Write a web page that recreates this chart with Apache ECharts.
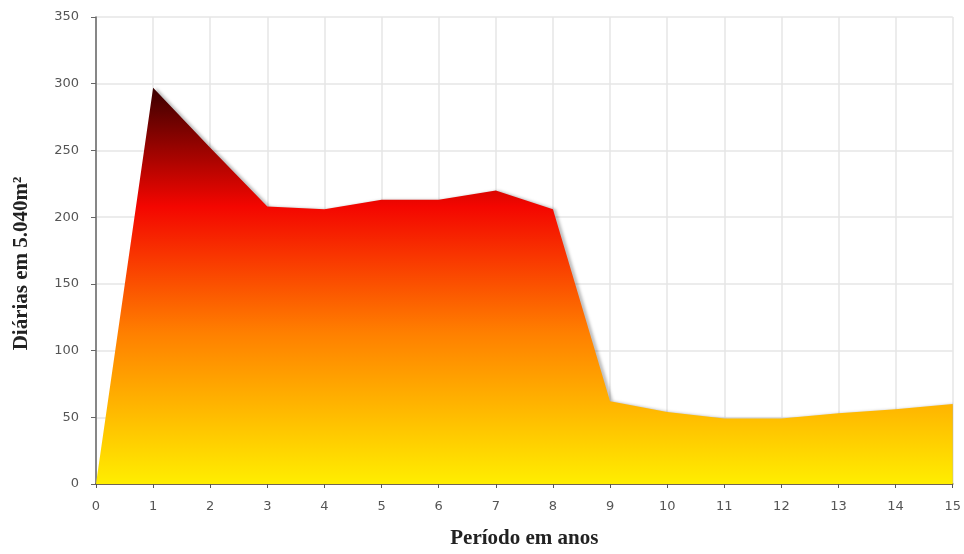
<!DOCTYPE html>
<html>
<head>
<meta charset="utf-8">
<script src="https://cdn.jsdelivr.net/npm/echarts@6/dist/echarts.min.js"></script>
<style>
  html, body { margin: 0; padding: 0; background: #fff; }
  #chart { width: 964px; height: 554px; }
</style>
</head>
<body>
<div id="chart"></div>
<script>
// Período (anos) e diárias correspondentes
const anos = [0, 1, 2, 3, 4, 5, 6, 7, 8, 9, 10, 11, 12, 13, 14, 15];
const diarias = [0, 297, 252, 208, 206, 213, 213, 220, 206, 62, 54, 49, 49, 53, 56, 60];
const yTicks = { min: 0, max: 350, interval: 50 };

const chart = echarts.init(document.getElementById('chart'));
chart.setOption({
  animation: false,
  grid: { left: 96, right: 7, top: 17, bottom: 64 },
  xAxis: {
    type: 'value',
    min: 0, max: 15, interval: 1,
    name: 'Período em anos',
    nameLocation: 'middle',
    nameGap: 44,
    nameTextStyle: { fontFamily: 'Liberation Serif', fontWeight: 'bold', fontSize: 21, color: '#222' },
    axisLine: { lineStyle: { color: '#4a3a20', width: 1.5 } },
    axisTick: { length: 4, lineStyle: { color: '#555' } },
    axisLabel: { color: '#555', fontSize: 13, fontFamily: 'DejaVu Sans', margin: 16 },
    splitLine: { show: true, lineStyle: { color: '#e6e6e6', width: 1.5 } }
  },
  yAxis: {
    type: 'value',
    min: yTicks.min, max: yTicks.max, interval: yTicks.interval,
    name: 'Diárias em 5.040m²',
    nameLocation: 'middle',
    nameGap: 64,
    nameRotate: 90,
    nameTextStyle: {
      fontFamily: 'Liberation Serif', fontWeight: 'bold', fontSize: 21, color: '#222',
      padding: [0, 26, 0, 0]
    },
    axisLine: { show: true, lineStyle: { color: '#666', width: 1.5 } },
    axisTick: { show: true, length: 5, lineStyle: { color: '#666' } },
    axisLabel: { color: '#555', fontSize: 13, fontFamily: 'DejaVu Sans', margin: 17 },
    splitLine: { show: true, lineStyle: { color: '#e6e6e6', width: 1.5 } }
  },
  series: [{
    type: 'line',
    data: anos.map((a, i) => [a, diarias[i]]),
    symbol: 'none',
    lineStyle: { width: 0 },
    areaStyle: {
      opacity: 1,
      color: new echarts.graphic.LinearGradient(0, 0, 0, 1, [
        { offset: 0, color: '#3a0000' },
        { offset: 0.3, color: '#f40600' },
        { offset: 0.62, color: '#ff8000' },
        { offset: 1, color: '#ffee00' }
      ]),
      shadowColor: 'rgba(0,0,0,0.25)',
      shadowBlur: 3,
      shadowOffsetX: 3
    }
  }]
});
</script>
</body>
</html>
